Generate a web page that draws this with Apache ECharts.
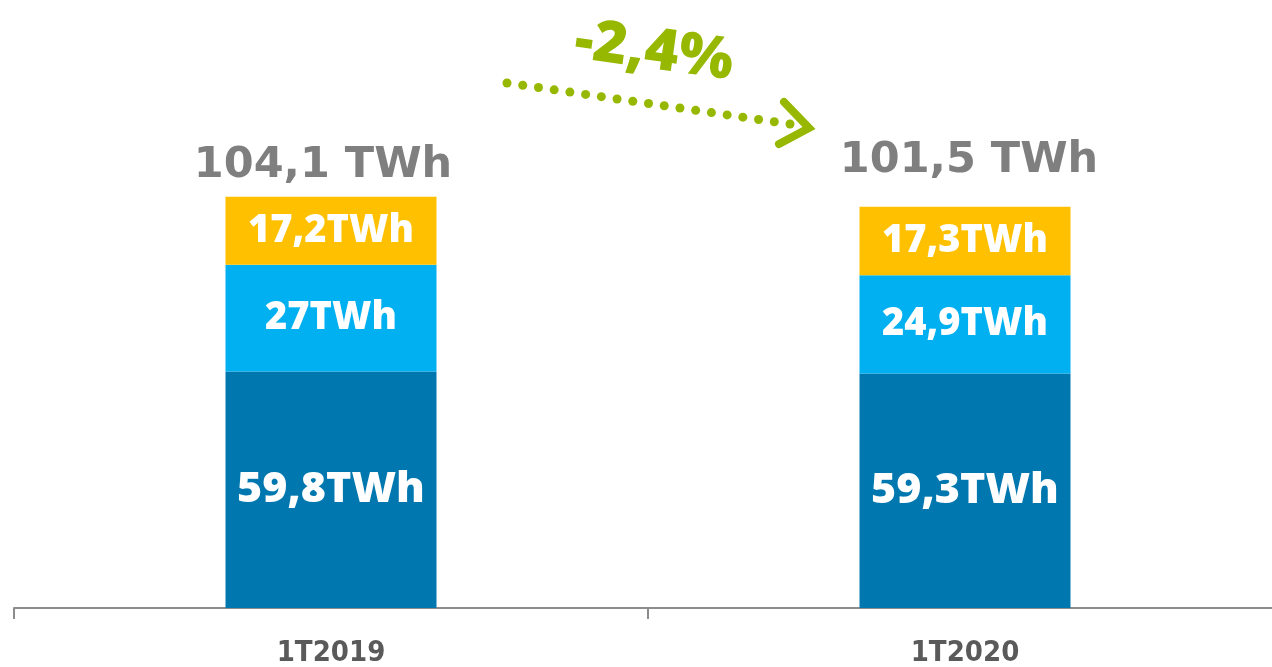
<!DOCTYPE html>
<html>
<head>
<meta charset="utf-8">
<script src="https://cdn.jsdelivr.net/npm/echarts@6/dist/echarts.min.js"></script>
<style>
html,body{margin:0;padding:0;background:#fff;}
#chart{width:1272px;height:667px;}
</style>
</head>
<body>
<div id="chart"></div>
<script>
var categories = ['1T2019', '1T2020'];
var baseValues = [59.8, 59.3];
var midValues = [27, 24.9];
var topValues = [17.2, 17.3];
var baseLabels = ['59,8TWh', '59,3TWh'];
var midLabels = ['27TWh', '24,9TWh'];
var topLabels = ['17,2TWh', '17,3TWh'];
var totalLabels = ['104,1 TWh', '101,5 TWh'];
var changeLabel = '-2,4%';

var chart = echarts.init(document.getElementById('chart'));
var segFont = '"Open Sans"';
function segLabel(arr, size) {
  return {
    show: true, position: 'inside', color: '#ffffff', fontFamily: segFont,
    fontWeight: 800, fontSize: size,
    formatter: function (p) { return arr[p.dataIndex]; }
  };
}
var green = '#97B800';
var dotCount = 19;
var dots = [];
for (var i = 0; i < dotCount; i++) {
  var t = i / (dotCount - 1);
  dots.push({
    type: 'circle',
    shape: { cx: 507 + t * (790 - 507), cy: 83 + t * (124 - 83), r: 4.5 },
    style: { fill: green }
  });
}
var option = {
  animation: false,
  grid: { left: 14, width: 1268, top: 15, bottom: 59, outerBoundsMode: 'none', containLabel: false },
  xAxis: {
    type: 'category', data: categories,
    axisLine: { lineStyle: { color: '#8c8c8c', width: 2 } },
    axisTick: { show: true, length: 11, lineStyle: { color: '#8c8c8c', width: 2 } },
    axisLabel: { color: '#5a5a5a', fontFamily: '"Liberation Sans Narrow","DejaVu Sans Condensed",sans-serif', fontWeight: 'bold', fontSize: 29, margin: 31 }
  },
  yAxis: { type: 'value', min: 0, max: 150, show: false, splitLine: { show: false } },
  series: [
    { type: 'bar', stack: 's', data: baseValues, barWidth: 211, itemStyle: { color: '#0078AF' }, label: segLabel(baseLabels, 43) },
    { type: 'bar', stack: 's', data: midValues, itemStyle: { color: '#00B0F0' }, label: segLabel(midLabels, 38) },
    { type: 'bar', stack: 's', data: topValues, itemStyle: { color: '#FFC000' }, label: segLabel(topLabels, 38) },
    { type: 'bar', stack: 's', itemStyle: { color: 'transparent' },
      data: [
        { value: 0, label: { distance: 10, offset: [-8, 0] } },
        { value: 0, label: { distance: 24, offset: [4, 0] } }
      ],
      label: { show: true, position: 'top', color: '#7F7F7F', fontFamily: '"DejaVu Sans",Verdana,sans-serif', fontWeight: 900, fontSize: 43,
        formatter: function (p) { return totalLabels[p.dataIndex]; } } }
  ],
  graphic: dots.concat([
    { type: 'polyline', shape: { points: [[784, 102], [809, 128], [779, 144]] },
      style: { stroke: green, lineWidth: 8, fill: null, lineCap: 'round', lineJoin: 'miter' } },
    { type: 'text', x: 654, y: 52, rotation: -8 * Math.PI / 180,
      style: { text: changeLabel, fill: green, font: '800 58px "Open Sans"', textAlign: 'center', textVerticalAlign: 'middle' } }
  ])
};
chart.setOption(option);
</script>
</body>
</html>
